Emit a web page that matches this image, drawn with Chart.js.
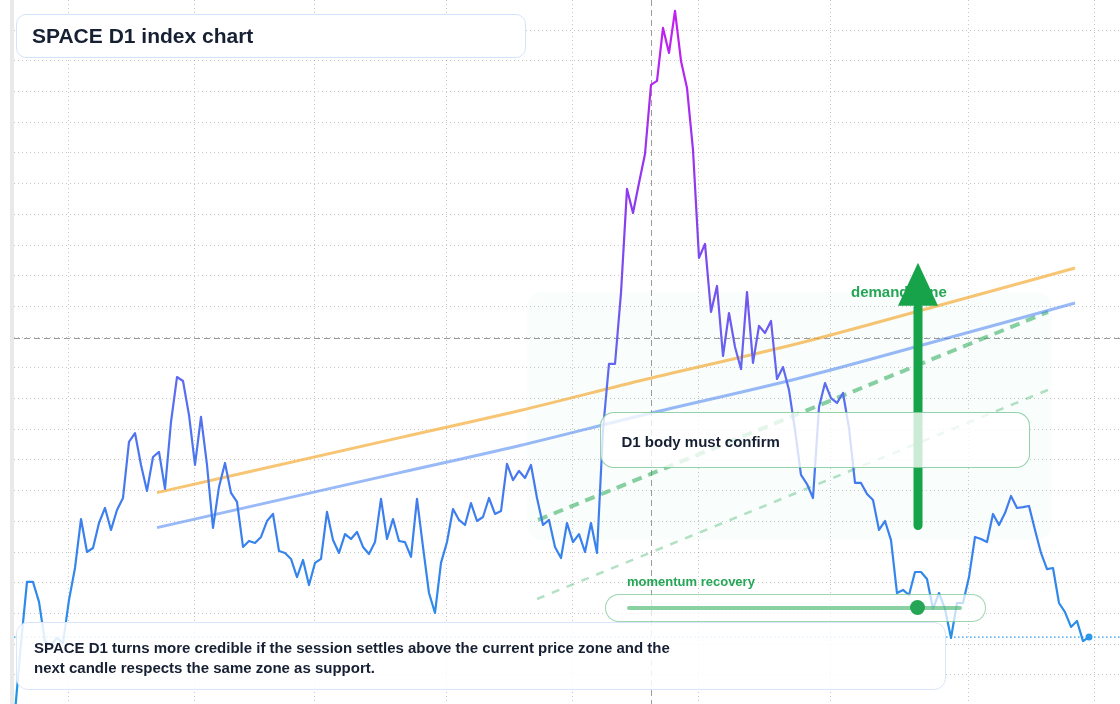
<!DOCTYPE html>
<html><head><meta charset="utf-8">
<script src="https://cdn.jsdelivr.net/npm/chart.js@4.4.1/dist/chart.umd.min.js"></script>
<style>
html,body{margin:0;padding:0;background:#fff;}
#wrap{position:relative;width:1120px;height:704px;overflow:hidden;font-family:"Liberation Sans",Arial,sans-serif;}
#c{position:absolute;left:0;top:0;}
.box{position:absolute;box-sizing:border-box;white-space:nowrap;}
#title{left:16px;top:14px;width:510px;height:44px;border:1px solid #d4e2fa;border-radius:10px;background:rgba(255,255,255,0.92);padding-left:15px;font-weight:700;font-size:21px;line-height:42px;color:#172033;}
#note{left:16px;top:622px;width:930px;height:68px;border:1px solid #d9e5fa;border-radius:12px;background:rgba(255,255,255,0.86);padding:15px 0 0 17px;font-weight:700;font-size:15px;line-height:20px;color:#172033;}
#callout{left:600px;top:412px;width:430px;height:56px;border:1.5px solid rgba(40,165,85,0.5);border-radius:14px;background:rgba(255,255,255,0.78);padding:2px 0 0 20.5px;font-weight:700;font-size:15px;line-height:53px;color:#172033;}
#momLabel{left:627px;top:574px;font-weight:700;font-size:13px;line-height:16px;color:#25a556;}
#pill{left:605px;top:594px;width:381px;height:28px;border:1.5px solid rgba(40,165,85,0.45);border-radius:14px;background:rgba(255,255,255,0.72);}
#bar{position:absolute;left:20.5px;top:10.5px;width:335px;height:4px;background:rgba(40,170,85,0.55);border-radius:2px;}
#dot{position:absolute;top:5px;width:15px;height:15px;border-radius:50%;background:#27a556;}
</style>
</head>
<body>
<div id="wrap">
<canvas id="c" width="1120" height="704"></canvas>
<div class="box" id="title">SPACE D1 index chart</div>
<div class="box" id="callout">D1 body must confirm</div>
<div class="box" id="momLabel">momentum recovery</div>
<div class="box" id="pill"><div id="bar"></div><div id="dot"></div></div>
<div class="box" id="note">SPACE D1 turns more credible if the session settles above the current price zone and the<br>next candle respects the same zone as support.</div>
</div>
<script>
// ---- data (daily closes, session index on x) ----
const closes = [
9.48, 13.97, 17.95, 17.95, 16.65, 14.04, 13.84, 14.30, 13.97, 16.78,
18.86, 22.05, 19.90, 20.16, 21.79, 22.77, 21.34, 22.64, 23.42, 27.07,
27.65, 25.57, 23.88, 26.09, 26.42, 24.01, 28.37, 31.30, 31.04, 28.83,
25.57, 28.70, 25.57, 21.47, 24.14, 25.70, 23.75, 23.16, 20.23, 20.62,
20.49, 20.88, 21.92, 22.38, 19.97, 19.84, 19.45, 18.27, 19.38, 17.75,
19.19, 19.45, 22.51, 20.68, 19.84, 21.07, 20.75, 21.21, 20.23, 19.77,
20.55, 23.36, 20.75, 22.05, 20.62, 20.55, 19.58, 23.36, 20.23, 17.23,
15.93, 19.19, 20.55, 22.70, 21.99, 21.66, 23.09, 21.92, 22.18, 23.42,
22.38, 22.57, 25.64, 24.59, 25.18, 24.72, 25.57, 23.42, 21.66, 21.99,
20.23, 19.51, 21.79, 20.55, 21.07, 19.90, 21.79, 19.84, 27.85, 32.15,
32.15, 36.78, 43.55, 41.99, 43.94, 45.83, 50.33, 50.59, 54.04, 52.41,
55.15, 51.89, 50.13, 46.09, 39.06, 39.97, 35.54, 37.23, 32.67, 35.47,
33.26, 31.82, 36.84, 32.22, 34.63, 34.17, 34.95, 31.17, 31.95, 30.46,
27.85, 24.92, 24.33, 23.42, 29.35, 30.91, 29.93, 29.61, 30.26, 27.98,
24.40, 24.40, 23.68, 23.29, 21.34, 21.92, 20.68, 17.23, 17.43, 17.10,
18.60, 18.60, 18.14, 16.19, 17.23, 16.19, 14.30, 16.58, 16.58, 18.27,
20.88, 20.75, 20.55, 22.38, 21.66, 22.44, 23.55, 22.77, 22.83, 22.90,
21.34, 19.84, 18.79, 18.86, 16.58, 15.99, 15.02, 15.41, 14.10, 14.36
];
const sessions = closes.map((_, i) => i);

// channel lines (read at a few sessions)
const channelX     = [23.67, 64.17, 84.17, 105, 130.83, 153.67, 176.67];
const channelUpper = [23.77, 27.35, 29.12, 31.14, 33.52, 35.93, 38.40];
const channelLower = [21.49, 25.07, 26.84, 28.86, 31.24, 33.65, 36.12];

// green support projections
const supportX     = [87.17, 172.17];
const supportMain  = [21.99, 35.54];
const supportXLow  = [87, 172.17];
const supportLow   = [16.84, 30.46];

// demand zone, crosshair, arrow
const zoneX = [85.33, 172.83];
const zoneY = [20.68, 36.84];
const zoneLabelAt = [139.33, 36.78];
const crossSession = 106;
const crossLevel = 33.84;
const arrowSession = 150.5;
const arrowFrom = 21.63;
const arrowTo = 38.75;
const arrowHeadBase = 35.95;
const momentum = 0.869;

// grid ticks (month starts, price grid)
const monthTicks = [9, 30, 50, 72, 93, 114, 136, 159, 180];
const priceGrid = [11.9,13.9,15.9,17.9,19.9,21.9,23.9,25.9,27.9,29.9,31.9,33.9,35.9,37.9,39.9,41.9,43.9,45.9,47.9,49.9,51.9,53.9];

// ---- momentum gauge ----
document.getElementById('dot').style.left = (20.5 + momentum * 335 - 7.5) + 'px';

const pts = (xs, ys) => xs.map((x, i) => ({x, y: ys[i]}));
const last = closes.length - 1;

function priceGradient(chart){
  const {ctx, chartArea} = chart;
  if (!chartArea) return '#3b82f6';
  const g = ctx.createLinearGradient(0, chartArea.bottom, 0, chartArea.top);
  g.addColorStop(0, '#1e97e4');
  g.addColorStop(0.25, '#3a80ee');
  g.addColorStop(0.45, '#5c6cf0');
  g.addColorStop(0.7, '#8a3cf0');
  g.addColorStop(1, '#c81cf2');
  return g;
}

function rr(ctx, x, y, w, h, r){
  ctx.beginPath();
  if (ctx.roundRect) ctx.roundRect(x, y, w, h, r);
  else ctx.rect(x, y, w, h);
}

const overlay = {
  id: 'overlay',
  beforeDraw(chart){
    const ctx = chart.ctx;
    ctx.save();
    ctx.fillStyle = '#e9e9e9';
    ctx.fillRect(10, 0, 4, chart.height);
    ctx.restore();
  },
  beforeDatasetsDraw(chart){
    const {ctx, chartArea: a, scales: {x, y}} = chart;
    ctx.save();
    // demand zone
    const zx0 = x.getPixelForValue(zoneX[0]), zx1 = x.getPixelForValue(zoneX[1]);
    const zy0 = y.getPixelForValue(zoneY[1]), zy1 = y.getPixelForValue(zoneY[0]);
    ctx.fillStyle = 'rgba(34,197,94,0.028)';
    rr(ctx, zx0, zy0, zx1 - zx0, zy1 - zy0, 16);
    ctx.fill();
    // crosshair
    ctx.strokeStyle = 'rgba(90,90,90,0.6)';
    ctx.lineWidth = 1;
    ctx.setLineDash([6, 4]);
    const cx = Math.round(x.getPixelForValue(crossSession)) + 0.5;
    const cy = Math.round(y.getPixelForValue(crossLevel)) + 0.5;
    ctx.beginPath(); ctx.moveTo(cx, a.top); ctx.lineTo(cx, a.bottom); ctx.stroke();
    ctx.beginPath(); ctx.moveTo(a.left, cy); ctx.lineTo(a.right, cy); ctx.stroke();
    // last value line
    const ly = y.getPixelForValue(closes[last]);
    ctx.strokeStyle = '#2b9be8';
    ctx.lineWidth = 1.3;
    ctx.setLineDash([1.5, 2.5]);
    ctx.beginPath(); ctx.moveTo(a.left, ly); ctx.lineTo(a.right, ly); ctx.stroke();
    ctx.restore();
  },
  afterDatasetsDraw(chart){
    const {ctx, scales: {x, y}} = chart;
    ctx.save();
    // demand zone label
    ctx.fillStyle = '#27a556';
    ctx.font = 'bold 15px "Liberation Sans", Arial, sans-serif';
    ctx.textBaseline = 'middle';
    ctx.fillText('demand zone', x.getPixelForValue(zoneLabelAt[0]), y.getPixelForValue(zoneLabelAt[1]));
    // arrow
    const ax = x.getPixelForValue(arrowSession);
    const yb = y.getPixelForValue(arrowFrom);
    const yt = y.getPixelForValue(arrowTo);
    const yh = y.getPixelForValue(arrowHeadBase);
    ctx.strokeStyle = '#16a34a';
    ctx.fillStyle = '#16a34a';
    ctx.lineWidth = 9;
    ctx.lineCap = 'round';
    ctx.beginPath(); ctx.moveTo(ax, yb); ctx.lineTo(ax, yh + 2); ctx.stroke();
    ctx.beginPath();
    ctx.moveTo(ax, yt); ctx.lineTo(ax + 20, yh); ctx.lineTo(ax - 20, yh); ctx.closePath();
    ctx.fill();
    ctx.restore();
  }
};

const gridOpts = {color: 'rgba(0,0,0,0.22)', lineWidth: 1, drawTicks: false};

new Chart(document.getElementById('c'), {
  type: 'line',
  data: {
    datasets: [
      {label: 'SPACE D1', data: pts(sessions, closes), borderColor: ctx => priceGradient(ctx.chart),
       borderWidth: 2.2, borderJoinStyle: 'round', pointRadius: 0, tension: 0},
      {label: 'last', data: [{x: sessions[last], y: closes[last]}], showLine: false,
       pointRadius: 3.5, pointBackgroundColor: '#2b9be8', pointBorderWidth: 0},
      {label: 'channel upper', data: pts(channelX, channelUpper), borderColor: 'rgba(243,170,50,0.68)',
       borderWidth: 3, pointRadius: 0, cubicInterpolationMode: 'monotone'},
      {label: 'channel lower', data: pts(channelX, channelLower), borderColor: 'rgba(70,128,240,0.55)',
       borderWidth: 3, pointRadius: 0, cubicInterpolationMode: 'monotone'},
      {label: 'support', data: pts(supportX, supportMain), borderColor: 'rgba(40,170,85,0.55)',
       borderWidth: 4, borderDash: [10, 7], pointRadius: 0},
      {label: 'support low', data: pts(supportXLow, supportLow), borderColor: 'rgba(40,170,85,0.35)',
       borderWidth: 2.5, borderDash: [8, 8], pointRadius: 0}
    ]
  },
  options: {
    responsive: false,
    animation: false,
    events: [],
    layout: {autoPadding: false, padding: {left: 14, right: 0, top: 0, bottom: 0}},
    plugins: {legend: {display: false}, tooltip: {enabled: false}},
    scales: {
      x: {type: 'linear', min: -1/6, max: 184.1667,
          grid: gridOpts, border: {display: false, dash: [1, 3]},
          ticks: {display: false},
          afterBuildTicks: s => { s.ticks = monthTicks.map(v => ({value: v})); },
          afterFit: s => { s.height = 0; }},
      y: {type: 'linear', min: 10, max: 55.86,
          grid: gridOpts, border: {display: false, dash: [1, 3]},
          ticks: {display: false},
          afterBuildTicks: s => { s.ticks = priceGrid.map(v => ({value: v})); },
          afterFit: s => { s.width = 0; }}
    }
  },
  plugins: [overlay]
});
</script>
</body></html>
